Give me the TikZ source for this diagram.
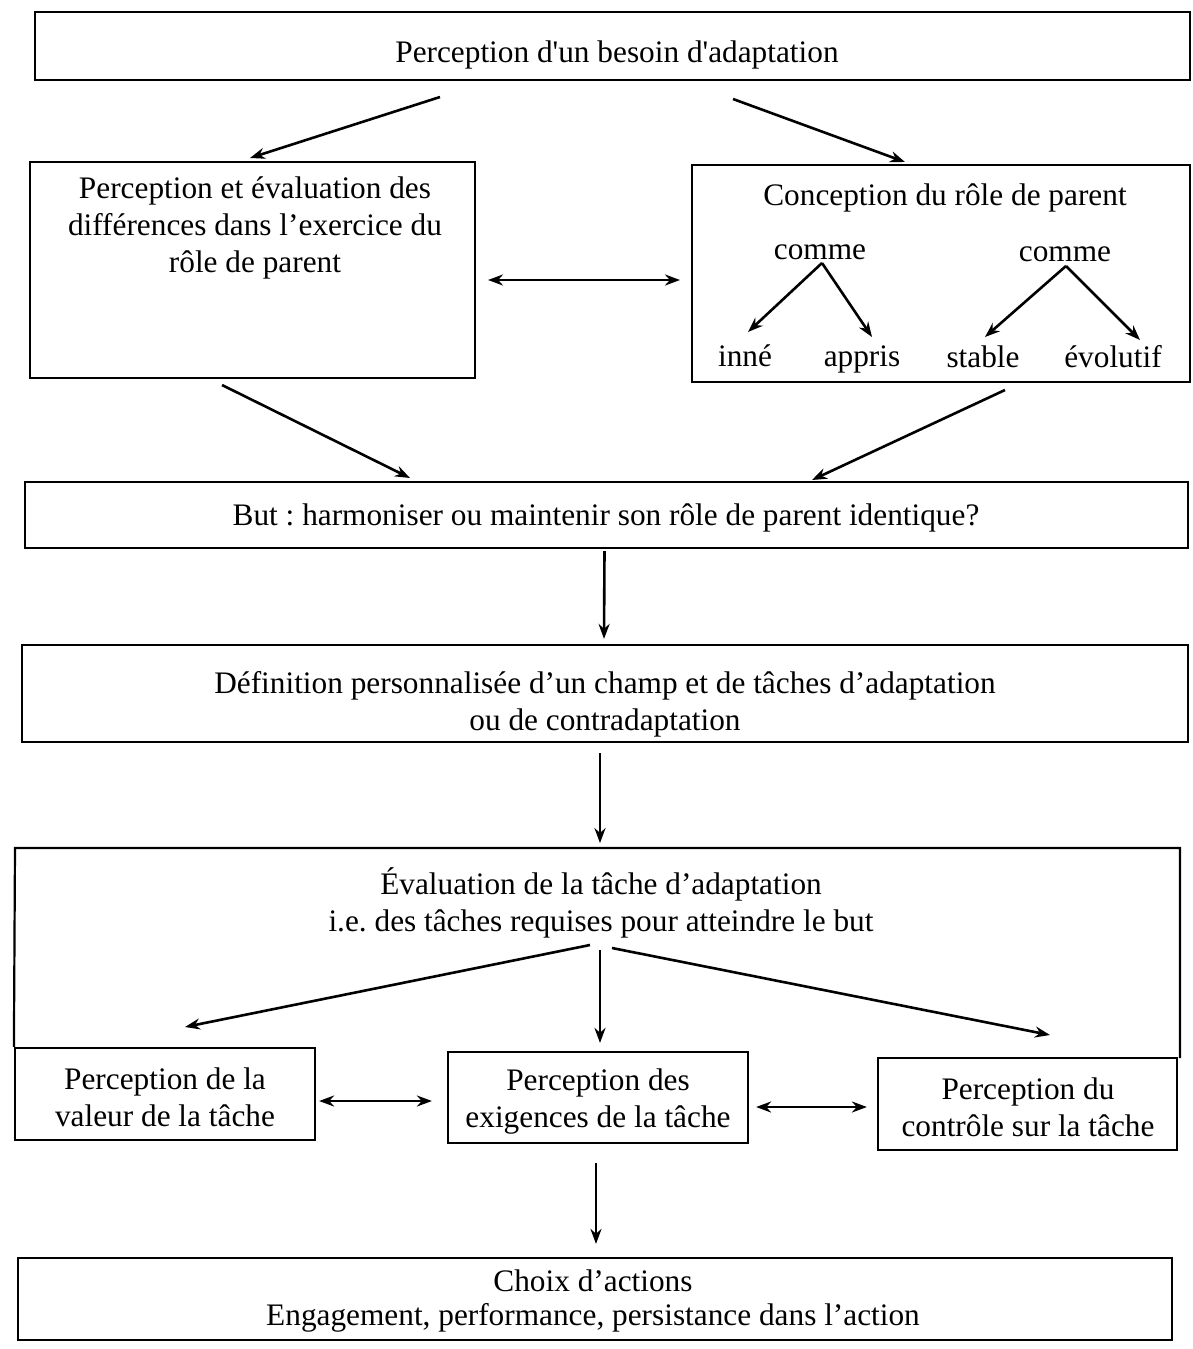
\documentclass[tikz,border=0pt]{standalone}
\usepackage{fontspec}
\setmainfont{Liberation Serif}
\usetikzlibrary{arrows.meta,calc}
\newcommand\bodysize{\fontsize{31.3}{37}\selectfont}
\frenchspacing
\begin{document}
\begin{tikzpicture}[x=1pt,y=-1pt,
  frame/.style={draw, line width=2.2pt, inner sep=0pt},
  txt/.style={inner sep=0pt, align=center, font=\bodysize},
  leaf/.style={txt, anchor=base},
  arr/.style={line width=2.6pt, -{Stealth[length=15pt,width=11pt]}},
  dbl/.style={line width=2.6pt, {Stealth[length=15pt,width=11pt]}-{Stealth[length=15pt,width=11pt]}}]
\useasboundingbox (0,0) rectangle (1193,1349);

% boxes
\node[frame, minimum width=1155pt, minimum height=68pt] (need) at (612.5,46) {};
\node[frame, minimum width=445pt, minimum height=216pt] (diff) at (252.5,270) {};
\node[frame, minimum width=498pt, minimum height=217pt] (conc) at (941,273.5) {};
\node[frame, minimum width=1163pt, minimum height=66pt] (but) at (606.5,515) {};
\node[frame, minimum width=1166pt, minimum height=97pt] (def) at (605,693.5) {};
\node[frame, minimum width=300pt, minimum height=92pt] (val) at (165,1094) {};
\node[frame, minimum width=300pt, minimum height=91pt] (exi) at (598,1097.5) {};
\node[frame, minimum width=299pt, minimum height=92pt] (ctl) at (1027.5,1104) {};
\node[frame, minimum width=1154pt, minimum height=82pt] (choix) at (595,1299) {};
% evaluation frame, open at the bottom where the three sub-boxes sit
\coordinate (evalBR) at (1180,1058);
\draw[line width=2.2pt] (val.north west) -- (15,848) -- (1180,848) -- (evalBR);

% texts
\node[txt] (needtxt) at (617,55) {\addfontfeatures{Ligatures=TeXOff}Perception d'un besoin d'adaptation};
\node[txt] (difftxt) at (255,228) {Perception et évaluation des\\différences dans l’exercice du\\rôle de parent};
\node[txt] (conctxt) at (945,198) {Conception du rôle de parent};
\node[leaf] (comme1) at (820,259) {comme};
\node[leaf] (comme2) at (1065,261) {comme};
\node[leaf] (inne) at (745,366) {inné};
\node[leaf] (appris) at (862,366) {appris};
\node[leaf] (stable) at (983,367) {stable};
\node[leaf] (evol) at (1113,367) {évolutif};
\node[txt] (buttxt) at (606,518) {But : harmoniser ou maintenir son rôle de parent identique?};
\node[txt] (deftxt) at (605,704) {Définition personnalisée d’un champ et de tâches d’adaptation\\ou de contradaptation};
\node[txt] (evaltxt) at (601,903) {Évaluation de la tâche d’adaptation\\i.e. des tâches requises pour atteindre le but};
\node[txt] (valtxt) at (165,1097) {Perception de la\\valeur de la tâche};
\node[txt] (exitxt) at (598,1102) {Perception des\\exigences de la tâche};
\node[txt] (ctltxt) at (1028,1107) {Perception du\\contrôle sur la tâche};
\node[txt, font=\fontsize{31.3}{34}\selectfont] (choixtxt) at (593,1301) {Choix d’actions\\Engagement, performance, persistance dans l’action};

% arrow end points
\coordinate (n1) at (440,97);
\coordinate (n2) at (733,99);
\coordinate (d1) at (250,158);
\coordinate (c1) at (905,162);
\coordinate (c1s) at (822,263);
\coordinate (c2s) at (1066,266);
\coordinate (inneN) at (748,332);
\coordinate (apprisN) at (872,337);
\coordinate (stableN) at (985,337);
\coordinate (evolN) at (1140,340);
\coordinate (dR) at (488,280);
\coordinate (cL) at (680,280);
\coordinate (dS) at (222,385);
\coordinate (cS) at (1005,390);
\coordinate (b1) at (410,478);
\coordinate (b2) at (812,480);
\coordinate (e1) at (590,945);
\coordinate (e2) at (600,950);
\coordinate (e3) at (612,948);
\coordinate (valN) at (185,1027);
\coordinate (ctlN) at (1050,1035);

% connectors
\draw[arr] (n1) -- (d1);
\draw[arr] (n2) -- (c1);
\draw[arr] (c1s) -- (inneN);
\draw[arr] (c1s) -- (apprisN);
\draw[arr] (c2s) -- (stableN);
\draw[arr] (c2s) -- (evolN);
\draw[dbl] (dR) -- (cL);
\draw[arr] (dS) -- (b1);
\draw[arr] (cS) -- (b2);
\draw[arr] ($(but.south)+(-2,2)$) -- ($(def.north)+(-1,-5)$);
\draw[arr] ($(def.south)+(-5,10)$) -- ($(def.south)+(-5,100)$);
\draw[arr] (e1) -- (valN);
\draw[arr] (e2) -- ($(exi.north)+(2,-8)$);
\draw[arr] (e3) -- (ctlN);
\draw[dbl] ($(val.east)+(3,7)$) -- ($(exi.west)+(-15,3.5)$);
\draw[dbl] ($(exi.east)+(7,9.5)$) -- ($(ctl.west)+(-10,3)$);
\draw[arr] ($(exi.south)+(-2,19)$) -- ($(choix.north)+(1,-13)$);
\end{tikzpicture}
\end{document}
